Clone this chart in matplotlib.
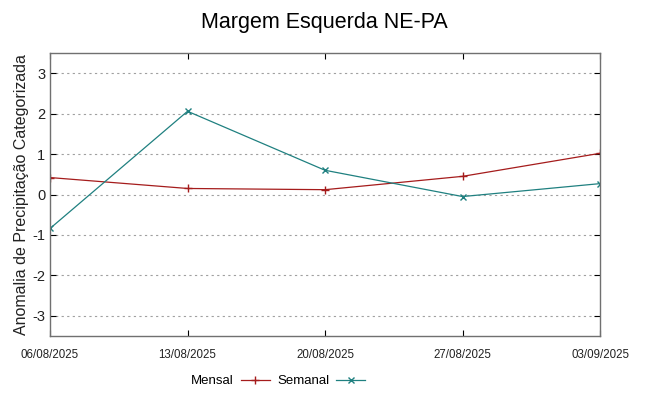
import matplotlib.pyplot as plt
import numpy as np

plt.rcParams['font.family'] = ['Liberation Sans', 'DejaVu Sans']
plt.rcParams['axes.unicode_minus'] = False

datas = ['06/08/2025', '13/08/2025', '20/08/2025', '27/08/2025', '03/09/2025']
mensal = [0.42, 0.15, 0.12, 0.45, 1.02]
semanal = [-0.84, 2.06, 0.60, -0.05, 0.27]

x = np.arange(len(datas))

fig = plt.figure(figsize=(6.48, 3.96), dpi=100)
ax = fig.add_axes([0.0772, 0.1515, 0.8488, 0.7145])

ax.plot(x, mensal, color='#a51c1c', lw=0.9, marker='+', ms=6, mew=1.0, label='Mensal')
ax.plot(x, semanal, color='#1f8080', lw=0.9, marker='x', ms=5, mew=1.0, label='Semanal')

ax.set_xlim(0, len(datas) - 1)
ax.set_ylim(-3.5, 3.5)
ax.set_xticks(x)
ax.set_xticklabels(datas, fontsize=8.3)
ax.set_yticks([-3, -2, -1, 0, 1, 2, 3])
ax.tick_params(axis='y', labelsize=10.5)
ax.tick_params(direction='in', top=True, right=True, length=4, width=0.8, colors='black', labelcolor='#222222')
ax.tick_params(axis='x', pad=9)

ax.yaxis.grid(True, linestyle=(0, (2, 3)), color='#a0a0a0', lw=0.8)
for s in ax.spines.values():
    s.set_color('#707070')
    s.set_linewidth(1.0)

ax.set_ylabel('Anomalia de Precipitação Categorizada', fontsize=11.5, color='#222222', labelpad=2)
fig.suptitle('Margem Esquerda NE-PA', fontsize=15.5, y=0.97)

ax.legend(loc='center', bbox_to_anchor=(0.415, -0.16), ncol=2, frameon=False,
          markerfirst=False, fontsize=9.5, handlelength=2.2, columnspacing=0.6,
          handletextpad=0.5)

fig.savefig('out.png', dpi=100)
